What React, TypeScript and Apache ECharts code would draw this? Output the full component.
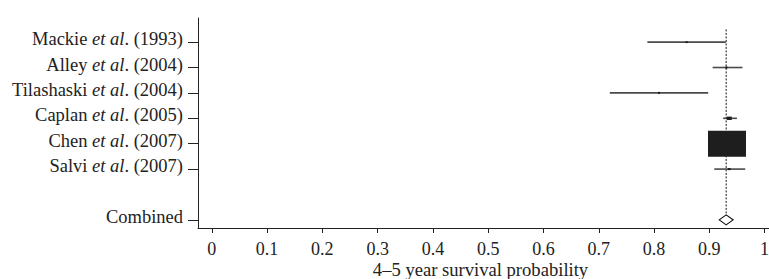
import React, { useEffect, useRef } from "react";
import * as echarts from "echarts";

const studies = ["Mackie", "Alley", "Tilashaski", "Caplan", "Chen", "Salvi"];
const years = ["1993", "2004", "2004", "2005", "2007", "2007"];
const rowPositions = [7, 6, 5, 4, 3, 2];
const estimates = [0.859, 0.931, 0.809, 0.936, 0.932, 0.936];
const lower = [0.788, 0.906, 0.72, 0.925, 0.905, 0.909];
const upper = [0.93, 0.96, 0.898, 0.95, 0.96, 0.965];
const weights = [1, 1, 1, 2.5, 19, 1.5];

const combinedLabel = "Combined";
const combinedPosition = 0;
const pooledEstimate = 0.9305;
const pooledLower = 0.918;
const pooledUpper = 0.943;

const xTicks = [0, 0.1, 0.2, 0.3, 0.4, 0.5, 0.6, 0.7, 0.8, 0.9, 1];
const axisTitle = "4–5 year survival probability";

const FONT = "'Liberation Serif', 'DejaVu Serif', serif";

export default function App() {
  const ref = useRef<HTMLDivElement>(null);
  useEffect(() => {
    if (!ref.current) return;
    const chart = echarts.init(ref.current, undefined, { renderer: "svg" });
    const yTickValues = [combinedPosition, ...rowPositions];
    const labelFor = (v: number) => {
      if (Math.abs(v - combinedPosition) < 1e-6) return `{n|${combinedLabel}}`;
      const i = rowPositions.indexOf(Math.round(v));
      if (i < 0) return "";
      return `{n|${studies[i]} }{i|et al}{n|. (${years[i]})}`;
    };
    const studyData = studies.map((_, i) => [lower[i], upper[i], estimates[i], rowPositions[i], weights[i]]);
    chart.setOption({
      animation: false,
      grid: { left: 198, right: 0, top: 18, bottom: 51, containLabel: false, outerBoundsMode: "none" },
      xAxis: {
        type: "value",
        min: -0.025,
        max: 1.008,
        splitLine: { show: false },
        axisLine: { onZero: false, lineStyle: { color: "#222", width: 1 } },
        axisTick: { customValues: xTicks, length: 5, lineStyle: { color: "#222" } },
        axisLabel: {
          customValues: xTicks,
          margin: 12,
          color: "#222",
          fontFamily: FONT,
          fontSize: 18,
          formatter: (v: number) => String(+Number(v).toFixed(1)),
        },
        name: axisTitle,
        nameLocation: "middle",
        nameGap: 32,
        nameMoveOverlap: false,
        nameTextStyle: { color: "#222", fontFamily: FONT, fontSize: 18.6, padding: [0, 6, 0, 0] },
      },
      yAxis: {
        type: "value",
        min: -0.32,
        max: 7.95,
        splitLine: { show: false },
        axisLine: { show: true, onZero: false, lineStyle: { color: "#222", width: 1 } },
        axisTick: { show: true, customValues: yTickValues, length: 10, lineStyle: { color: "#222" } },
        axisLabel: {
          customValues: yTickValues,
          margin: 15,
          color: "#222",
          formatter: labelFor,
          rich: {
            n: { fontFamily: FONT, fontSize: 18.5, color: "#222", padding: [0, 0, 6, 0] },
            i: { fontFamily: FONT, fontSize: 18.5, color: "#222", fontStyle: "italic", padding: [0, 0, 6, 0] },
          },
        },
      },
      series: [
        {
          type: "line",
          data: [
            [pooledEstimate, 7.5],
            [pooledEstimate, combinedPosition + 0.2],
          ],
          symbol: "none",
          lineStyle: { color: "#111", width: 1, type: [2, 1.5] },
          z: 1,
        },
        {
          type: "custom",
          data: studyData,
          encode: { x: [0, 1, 2], y: 3 },
          z: 2,
          renderItem: (params: any, api: any) => {
            const lo = api.value(0);
            const hi = api.value(1);
            const est = api.value(2);
            const y = api.value(3);
            const w = api.value(4);
            const p1 = api.coord([lo, y]);
            const p2 = api.coord([hi, y]);
            const c = api.coord([est, y]);
            const bw = Math.max(2, w * 2);
            const bh = Math.max(2, w * 1.37);
            return {
              type: "group",
              children: [
                {
                  type: "line",
                  shape: { x1: p1[0], y1: p1[1], x2: p2[0], y2: p2[1] },
                  style: { stroke: "#4a4a4a", lineWidth: 1.6 },
                },
                {
                  type: "rect",
                  shape: { x: c[0] - bw / 2, y: c[1] - bh / 2, width: bw, height: bh },
                  style: { fill: "#1e1e1e" },
                },
              ],
            };
          },
        },
        {
          type: "custom",
          data: [[pooledLower, pooledUpper, pooledEstimate, combinedPosition]],
          encode: { x: [0, 1, 2], y: 3 },
          z: 3,
          renderItem: (params: any, api: any) => {
            const lo = api.coord([api.value(0), api.value(3)]);
            const hi = api.coord([api.value(1), api.value(3)]);
            const c = api.coord([api.value(2), api.value(3)]);
            const h = 5;
            return {
              type: "polygon",
              shape: {
                points: [
                  [lo[0], c[1]],
                  [c[0], c[1] - h],
                  [hi[0], c[1]],
                  [c[0], c[1] + h],
                ],
              },
              style: { fill: "#fff", stroke: "#111", lineWidth: 1.2 },
            };
          },
        },
      ],
    });
    return () => chart.dispose();
  }, []);
  return (
    <div
      ref={ref}
      style={{ position: "fixed", left: 0, top: 0, width: 769, height: 279, background: "#fff" }}
    />
  );
}
